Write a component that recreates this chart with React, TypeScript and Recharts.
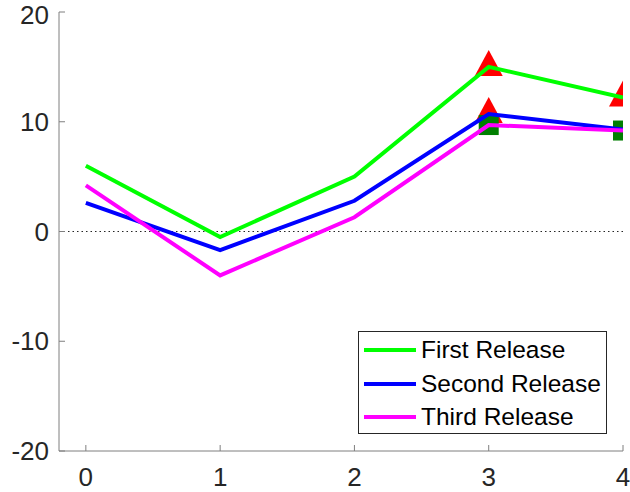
/* Three release curves with highlighted points, MATLAB style. */

import { ComposedChart, Line, ReferenceLine, Scatter, XAxis, YAxis } from "recharts";

const xValues = [0, 1, 2, 3, 4];
const firstRelease = [6.0, -0.5, 5.0, 15.0, 12.2];
const secondRelease = [2.6, -1.7, 2.8, 10.7, 9.3];
const thirdRelease = [4.2, -4.0, 1.3, 9.7, 9.2];

const triangleX = [3, 3, 4];
const triangleY = [15.0, 10.7, 12.2];
const squareX = [3, 4];
const squareY = [9.7, 9.2];

const xTicks = [0, 1, 2, 3, 4];
const yTicks = [-20, -10, 0, 10, 20];

const series = [
  { name: "First Release", values: firstRelease, color: "#00ff00" },
  { name: "Second Release", values: secondRelease, color: "#0000ff" },
  { name: "Third Release", values: thirdRelease, color: "#ff00ff" },
];

const toPoints = (xs: number[], ys: number[]) => xs.map((x, i) => ({ x, y: ys[i] }));

const font = '"Liberation Sans", Arial, Helvetica, sans-serif';
const tickStyle = { fontSize: 26, fill: "#262626", fontFamily: font };

function Triangle(props: any) {
  const { cx, cy } = props;
  return <polygon points={`${cx},${cy - 17} ${cx + 14},${cy + 9} ${cx - 14},${cy + 9}`} fill="#ff0000" />;
}

function Square(props: any) {
  const { cx, cy } = props;
  return <rect x={cx - 10} y={cy - 10} width={20} height={20} fill="#007f00" />;
}

export default function App() {
  return (
    <div style={{ position: "absolute", left: 0, top: 0, width: 630, height: 492, background: "#fff" }}>
      <ComposedChart width={630} height={492} margin={{ top: 12, right: 7, bottom: 0, left: 0 }}>
        <XAxis
          type="number"
          dataKey="x"
          domain={[-0.2, 4]}
          ticks={xTicks}
          allowDataOverflow
          height={41}
          stroke="#7f7f7f"
          tickSize={-6}
          tickMargin={23}
          tick={tickStyle}
        />
        <YAxis
          type="number"
          domain={[-20, 20]}
          ticks={yTicks}
          width={59}
          stroke="#7f7f7f"
          tickSize={-6}
          tickMargin={16}
          tick={tickStyle}
        />
        <ReferenceLine y={0} stroke="#262626" strokeDasharray="1.5 3" strokeWidth={1} />
        <Scatter data={toPoints(triangleX, triangleY)} dataKey="y" shape={Triangle} zIndex={300} isAnimationActive={false} />
        <Scatter data={toPoints(squareX, squareY)} dataKey="y" shape={Square} zIndex={300} isAnimationActive={false} />
        {series.map((s) => (
          <Line
            key={s.name}
            data={toPoints(xValues, s.values)}
            dataKey="y"
            name={s.name}
            stroke={s.color}
            strokeWidth={4}
            dot={false}
            activeDot={false}
            isAnimationActive={false}
          />
        ))}
      </ComposedChart>
      <div
        style={{
          position: "absolute",
          left: 358,
          top: 331,
          width: 247,
          height: 101,
          border: "1px solid #262626",
          background: "#fff",
          fontFamily: font,
          fontSize: 24.5,
          color: "#000",
        }}
      >
        {series.map((s, i) => (
          <div key={s.name} style={{ position: "absolute", left: 0, top: 18 + i * 33.5 - 16, height: 32, display: "flex", alignItems: "center" }}>
            <div style={{ marginLeft: 5, width: 52, height: 4, background: s.color }} />
            <span style={{ marginLeft: 5, whiteSpace: "nowrap" }}>{s.name}</span>
          </div>
        ))}
      </div>
    </div>
  );
}
